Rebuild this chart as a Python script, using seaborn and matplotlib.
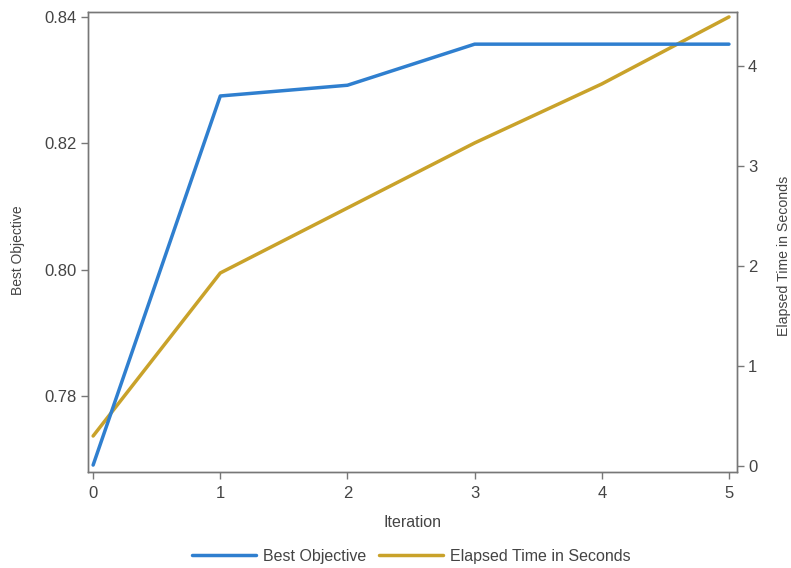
import matplotlib
matplotlib.use("Agg")
import matplotlib.pyplot as plt
import seaborn as sns
import pandas as pd
from matplotlib.lines import Line2D

iterations = [0, 1, 2, 3, 4, 5]
best_objective = [0.7691, 0.8275, 0.8292, 0.8357, 0.8357, 0.8357]
elapsed_seconds = [0.30, 1.93, 2.58, 3.23, 3.82, 4.49]

blue = "#2f7fcf"
gold = "#c9a22a"
grey_text = "#444444"
spine_grey = "#777777"

sns.set_theme(style="white")
plt.rcParams["font.family"] = ["Liberation Sans", "DejaVu Sans"]

df = pd.DataFrame({"Iteration": iterations,
                   "Best Objective": best_objective,
                   "Elapsed Time in Seconds": elapsed_seconds})

fig = plt.figure(figsize=(7.91, 5.68), dpi=100)
ax = fig.add_axes([0.1113, 0.169, 0.8204, 0.810])
ax2 = ax.twinx()

sns.lineplot(data=df, x="Iteration", y="Best Objective", ax=ax, color=blue, linewidth=2.5)
sns.lineplot(data=df, x="Iteration", y="Elapsed Time in Seconds", ax=ax2, color=gold, linewidth=2.5)
ax.set_zorder(ax2.get_zorder() + 1)
ax.patch.set_visible(False)

ax.set_xlim(-0.04, 5.063)
ax.set_ylim(0.768, 0.8408)
ax2.set_ylim(-0.06, 4.54)
ax.set_xticks(iterations)
ax.set_yticks([0.78, 0.80, 0.82, 0.84])
ax.set_yticklabels(["0.78", "0.80", "0.82", "0.84"])
ax2.set_yticks([0, 1, 2, 3, 4])

for a in (ax, ax2):
    for s in a.spines.values():
        s.set_color(spine_grey)
        s.set_linewidth(1.0)
    a.tick_params(colors=grey_text, labelsize=12, length=5, width=1,
                  direction="out", pad=3)
    a.tick_params(axis="both", color=spine_grey)
    a.grid(False)

ax.tick_params(axis="x", bottom=True, pad=5)
ax.tick_params(axis="y", left=True)
ax2.tick_params(axis="y", right=True)

ax.set_xlabel("Iteration", fontsize=11.5, color=grey_text, va="center")
ax.set_ylabel("Best Objective", fontsize=10, color=grey_text, va="center", ha="center")
ax2.set_ylabel("Elapsed Time in Seconds", fontsize=10.2, color=grey_text,
               rotation=90, va="center", ha="center")
ax.xaxis.set_label_coords(0.5, -0.1087)
ax.yaxis.set_label_coords(-0.1086, 0.483)
ax2.yaxis.set_label_coords(1.0724, 0.47)

handles = [Line2D([], [], color=blue, linewidth=2.5),
           Line2D([], [], color=gold, linewidth=2.5)]
fig.legend(handles, ["Best Objective", "Elapsed Time in Seconds"],
           loc="center", bbox_to_anchor=(0.52, 0.0211), ncol=2, frameon=False,
           fontsize=11.5, labelcolor=grey_text, handlelength=4.0,
           handletextpad=0.45, columnspacing=0.75, borderpad=0)

fig.savefig("out.png", dpi=100)
